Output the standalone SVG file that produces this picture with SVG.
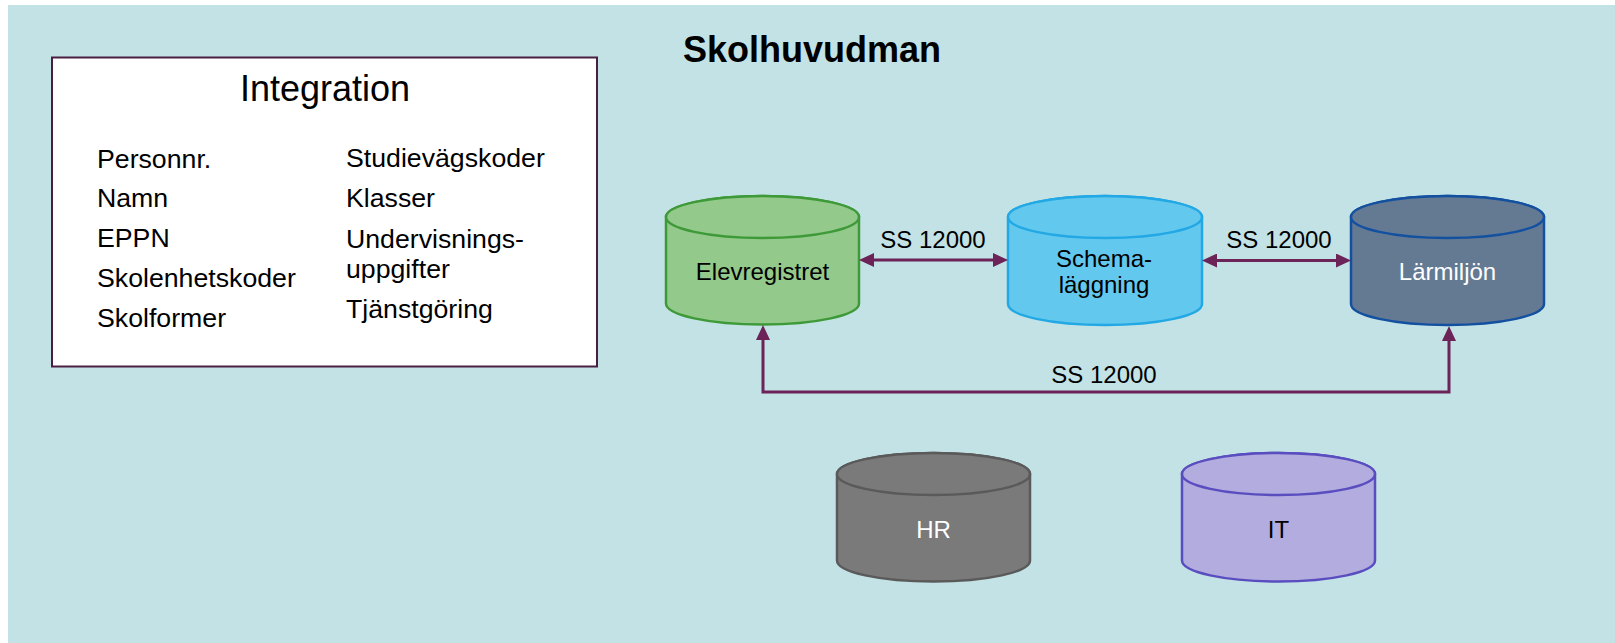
<svg xmlns="http://www.w3.org/2000/svg" width="1615" height="643" viewBox="0 0 1615 643">
<style>
  text { font-family: "Liberation Sans", Arial, sans-serif; fill: #000; }
  .list { font-size: 26.7px; }
  .lbl { font-size: 24px; text-anchor: middle; }
  .conn { font-size: 24px; text-anchor: middle; }
  .wire { fill: none; stroke: #6B2358; stroke-width: 3; }
  .cyl { stroke-width: 2.5; }
</style>
<defs>
  <marker id="ah" markerUnits="userSpaceOnUse" markerWidth="15" markerHeight="14" refX="5" refY="7" orient="auto-start-reverse" viewBox="0 0 15 14">
    <path d="M0,0 L15,7 L0,14 Z" fill="#6B2358"/>
  </marker>
</defs>
<rect x="0" y="0" width="1615" height="643" fill="#FFFFFF"/>
<rect x="8" y="5" width="1607" height="638" fill="#C2E2E5"/>

<g id="title">
  <text x="812" y="62" font-size="36" font-weight="bold" text-anchor="middle">Skolhuvudman</text>
</g>

<g id="integration">
  <rect x="52" y="57.5" width="545" height="309" fill="#FFFFFF" stroke="#4A1E42" stroke-width="2"/>
  <text x="325" y="101" font-size="36" text-anchor="middle">Integration</text>
  <text class="list" x="97" y="168">Personnr.</text>
  <text class="list" x="97" y="207">Namn</text>
  <text class="list" x="97" y="247">EPPN</text>
  <text class="list" x="97" y="287">Skolenhetskoder</text>
  <text class="list" x="97" y="327">Skolformer</text>
  <text class="list" x="346" y="167">Studievägskoder</text>
  <text class="list" x="346" y="207">Klasser</text>
  <text class="list" x="346" y="248">Undervisnings-</text>
  <text class="list" x="346" y="278">uppgifter</text>
  <text class="list" x="346" y="318">Tjänstgöring</text>
</g>

<g id="elevregistret">
  <path class="cyl" d="M666,217 L666,303.5 A96.5,21 0 0 0 859,303.5 L859,217 A96.5,21 0 0 0 666,217 Z" fill="#93C98A" stroke="#3E9A38"/>
  <ellipse class="cyl" cx="762.5" cy="217" rx="96.5" ry="21" fill="#93C98A" stroke="#3E9A38"/>
  <text class="lbl" x="762.5" y="280">Elevregistret</text>
</g>

<g id="schemalaggning">
  <path class="cyl" d="M1008,217 L1008,304 A97,21 0 0 0 1202,304 L1202,217 A97,21 0 0 0 1008,217 Z" fill="#63C8EE" stroke="#22A8E4"/>
  <ellipse class="cyl" cx="1105" cy="217" rx="97" ry="21" fill="#63C8EE" stroke="#22A8E4"/>
  <text class="lbl" x="1104" y="267">Schema-</text>
  <text class="lbl" x="1104" y="293">läggning</text>
</g>

<g id="larmiljon">
  <path class="cyl" d="M1351,217 L1351,304 A96.5,21 0 0 0 1544,304 L1544,217 A96.5,21 0 0 0 1351,217 Z" fill="#647A93" stroke="#1450A0"/>
  <ellipse class="cyl" cx="1447.5" cy="217" rx="96.5" ry="21" fill="#647A93" stroke="#1450A0"/>
  <text class="lbl" x="1447.5" y="280" style="fill:#FFFFFF">Lärmiljön</text>
</g>

<g id="hr">
  <path class="cyl" d="M837,474 L837,560.5 A96.5,21 0 0 0 1030,560.5 L1030,474 A96.5,21 0 0 0 837,474 Z" fill="#7A7A7A" stroke="#5A5A5A"/>
  <ellipse class="cyl" cx="933.5" cy="474" rx="96.5" ry="21" fill="#7A7A7A" stroke="#5A5A5A"/>
  <text class="lbl" x="933.5" y="538" style="fill:#FFFFFF">HR</text>
</g>

<g id="it">
  <path class="cyl" d="M1182,474 L1182,560.5 A96.5,21 0 0 0 1375,560.5 L1375,474 A96.5,21 0 0 0 1182,474 Z" fill="#B2ACDF" stroke="#5A4DC0"/>
  <ellipse class="cyl" cx="1278.5" cy="474" rx="96.5" ry="21" fill="#B2ACDF" stroke="#5A4DC0"/>
  <text class="lbl" x="1278.5" y="538">IT</text>
</g>

<g id="connectors">
  <line class="wire" x1="869" y1="260" x2="998" y2="260" marker-start="url(#ah)" marker-end="url(#ah)"/>
  <line class="wire" x1="1212" y1="260.5" x2="1341" y2="260.5" marker-start="url(#ah)" marker-end="url(#ah)"/>
  <path class="wire" d="M763,335 V392 H1449 V336" marker-start="url(#ah)" marker-end="url(#ah)"/>
  <text class="conn" x="933" y="248">SS 12000</text>
  <text class="conn" x="1279" y="248">SS 12000</text>
  <text class="conn" x="1104" y="383">SS 12000</text>
</g>
</svg>
